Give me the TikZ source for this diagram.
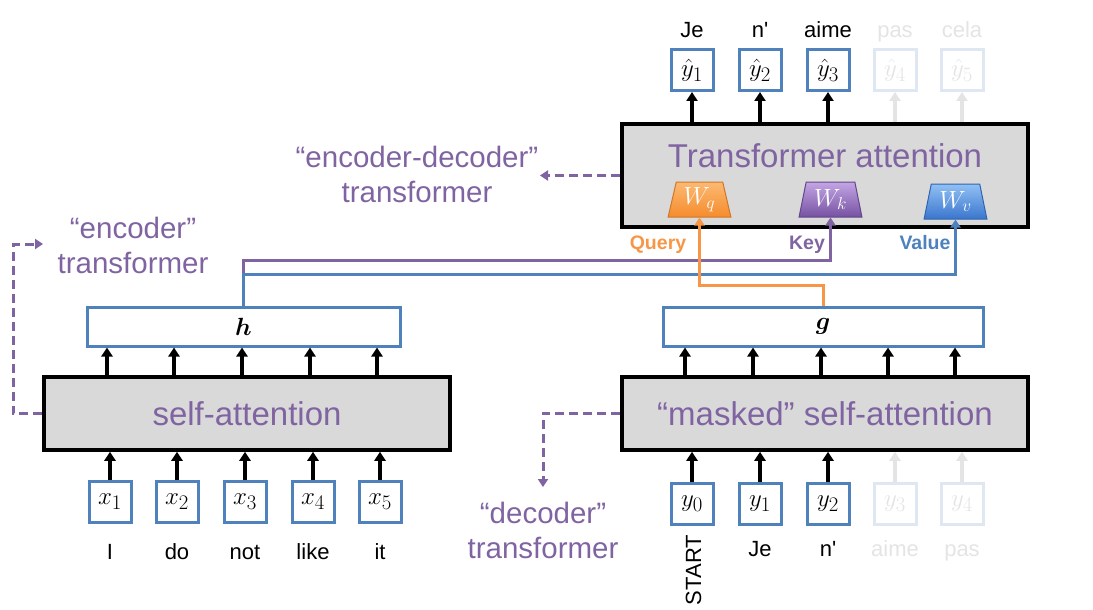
\documentclass[tikz,border=0pt]{standalone}
\usepackage{amsmath}
\usepackage{fontspec}
\setmainfont{Liberation Sans}
\usetikzlibrary{arrows.meta,shapes.geometric}
\definecolor{attnpurple}{RGB}{128,100,162}
\definecolor{attngray}{RGB}{217,217,217}
\definecolor{boxblue}{RGB}{79,129,189}
\definecolor{queryorange}{RGB}{247,150,70}
\definecolor{fadeblue}{RGB}{222,231,242}
\definecolor{fadegray}{RGB}{228,228,228}
\definecolor{wqtop}{RGB}{252,185,115}
\definecolor{wqbot}{RGB}{245,140,45}
\definecolor{wktop}{RGB}{195,165,228}
\definecolor{wkbot}{RGB}{118,82,162}
\definecolor{wvtop}{RGB}{145,192,245}
\definecolor{wvbot}{RGB}{58,118,205}

\begin{document}
\begin{tikzpicture}[x=1pt, y=-1pt,
  attn/.style = {draw=black, line width=3.5pt, fill=attngray, text=attnpurple,
    font=\fontsize{33}{33}\selectfont, minimum width=406pt, inner sep=0pt},
  vecbox/.style = {draw=boxblue, line width=3pt, fill=white,
    minimum height=39pt, inner sep=0pt, font=\fontsize{28}{28}\selectfont},
  tokbox/.style = {draw=boxblue, line width=3pt, fill=white,
    minimum width=42pt, minimum height=41pt, inner sep=0pt,
    font=\fontsize{28}{28}\selectfont},
  faded/.style = {draw=fadeblue, text=fadegray},
  word/.style = {font=\fontsize{22}{22}\selectfont, anchor=base},
  up/.style = {line width=3.5pt, -{Triangle[length=9pt,width=11pt]}},
  note/.style = {text=attnpurple, align=center,
    font=\fontsize{29.5}{35}\selectfont},
  noteline/.style = {attnpurple, line width=3pt, dash pattern=on 9pt off 5pt,
    -{Triangle[length=8pt,width=10pt]}},
  proj/.style = {trapezium, trapezium angle=77, trapezium stretches=true,
    minimum width=63pt, minimum height=35pt, inner sep=0pt, text=white,
    line width=1pt, font=\fontsize{27}{27}\selectfont},
  qkv/.style = {line width=3pt, -{Triangle[length=8pt,width=10pt]}},
  tag/.style = {font=\fontsize{19.5}{19.5}\selectfont\bfseries, anchor=base}]

\useasboundingbox (0,0) rectangle (1093,610);

% encoder
\node[attn, minimum height=73pt] (sa) at (247,413.5) {self-attention};
\node[vecbox, minimum width=313pt] (h) at (243.5,326.5) {$\boldsymbol{h}$};
\foreach \i/\xx/\w in {1/110/I, 2/177/do, 3/245/not, 4/313/like, 5/380/it} {
  \node[tokbox] (x\i) at (\xx,502) {$x_\i$};
  \node[word] (xw\i) at (\xx,559) {\w};
  \draw[up] (x\i.north) -- (x\i.north |- sa.south);
  \draw[up] ([xshift=-3pt]x\i.north |- sa.north) -- ([xshift=-3pt]x\i.north |- h.south);
}

% decoder
\node[attn, minimum height=73pt] (msa) at (825,413.5) {“masked” self-attention};
\node[vecbox, minimum width=320pt] (g) at (823,326.5) {$\boldsymbol{g}$};
\foreach \i/\xx/\w in {0/692/, 1/760/Je, 2/828/n\textquotesingle} {
  \node[tokbox] (y\i) at (\xx,503.5) {$y_\i$};
  \node[word] (yw\i) at (\xx,556) {\w};
  \draw[up] (y\i.north) -- (y\i.north |- msa.south);
  \draw[up] ([xshift=-7pt]y\i.north |- msa.north) -- ([xshift=-7pt]y\i.north |- g.south);
}
\foreach \i/\xx/\w in {3/895/aime, 4/962/pas} {
  \node[tokbox, faded] (y\i) at (\xx,503.5) {$y_\i$};
  \node[word, text=fadegray] (yw\i) at (\xx,556) {\w};
  \draw[up, fadegray] (y\i.north) -- (y\i.north |- msa.south);
  \draw[up] ([xshift=-7pt]y\i.north |- msa.north) -- ([xshift=-7pt]y\i.north |- g.south);
}
\node[word, rotate=90, anchor=center] (start) at (693.5,570) {START};

% transformer attention
\node[attn, minimum height=103pt] (ta) at (825,175.5) {};
\node[text=attnpurple, font=\fontsize{33}{33}\selectfont, anchor=base] (talabel) at (825,167) {Transformer attention};
\node[proj, draw=wqbot!85!black, top color=wqtop, bottom color=wqbot] (wq) at (699.5,199.5) {$W_q$};
\node[proj, draw=wkbot!85!black, top color=wktop, bottom color=wkbot] (wk) at (830.5,199.5) {$W_k$};
\node[proj, draw=wvbot!85!black, top color=wvtop, bottom color=wvbot] (wv) at (955.5,201.5) {$W_v$};
\node[tag, text=queryorange] (query) at (658,249) {Query};
\node[tag, text=attnpurple] (key) at (807,249) {Key};
\node[tag, text=boxblue] (value) at (925,249) {Value};
\foreach \i/\xx/\w in {1/692/Je, 2/760/n\textquotesingle, 3/828/aime} {
  \node[tokbox] (yh\i) at (\xx,70) {$\hat{y}_\i$};
  \node[word] (yhw\i) at (\xx,38) {\w};
  \draw[up] (yh\i.south |- ta.north) -- (yh\i.south);
}
\foreach \i/\xx/\w in {4/895/pas, 5/962/cela} {
  \node[tokbox, faded] (yh\i) at (\xx,70) {$\hat{y}_\i$};
  \node[word, text=fadegray] (yhw\i) at (\xx,38) {\w};
  \draw[up, fadegray] (yh\i.south |- ta.north) -- (yh\i.south);
}

% query / key / value
\draw[qkv, attnpurple] (h.north) -- ++(0,-45) -| (wk.south);
\draw[qkv, boxblue] (h.north) -- ++(0,-31) -| (wv.south);
\draw[qkv, queryorange] (g.north) -- ++(0,-20) -| (wq.south);

% labels
\node[note] (enc) at (133,245.5) {“encoder”\\transformer};
\node[note] (encdec) at (417,174.5) {“encoder-decoder”\\transformer};
\node[note] (dec) at (543,530.5) {“decoder”\\transformer};
\coordinate (enctip) at (43,244);
\coordinate (encdectip) at (540,175.5);
\coordinate (dectip) at (543,487);
\draw[noteline] (sa.west) -- ++(-29,0) |- (enctip);
\draw[noteline] (ta.west) -- (encdectip);
\draw[noteline] (msa.west) -| (dectip);
\end{tikzpicture}
\end{document}
